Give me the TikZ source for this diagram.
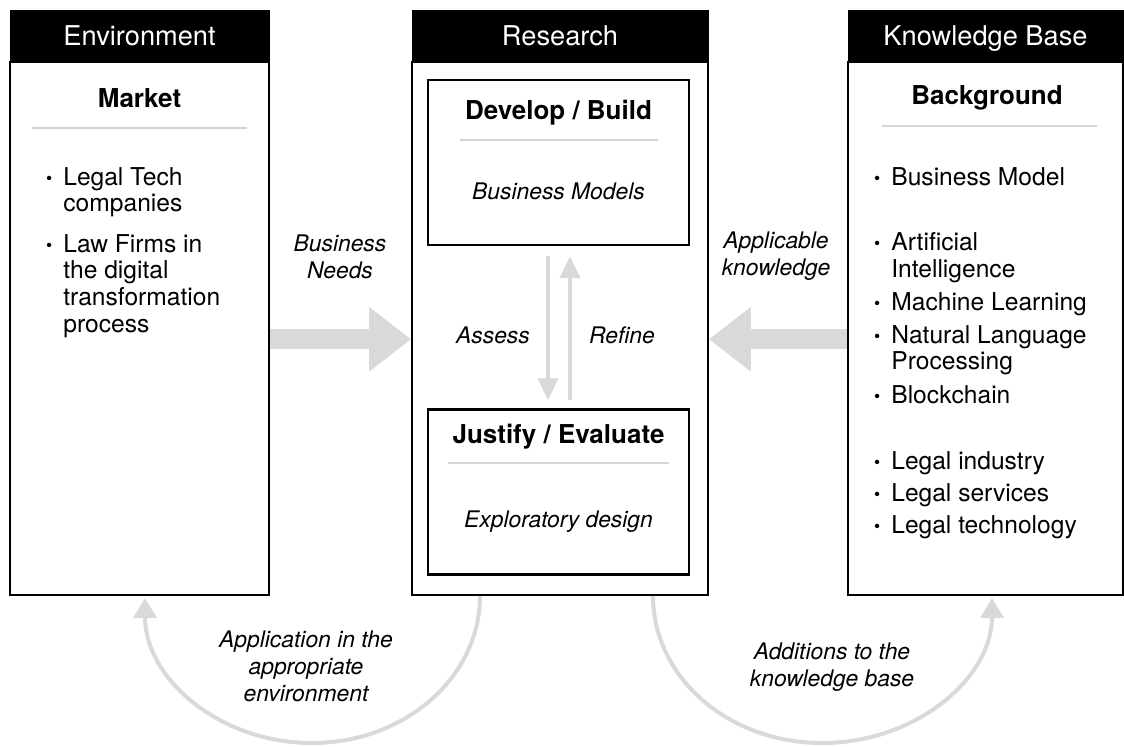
\documentclass[tikz,border=0pt]{standalone}
\usepackage{fontspec}
\setmainfont{TeX Gyre Heros}
\usepackage{tikz}
\usetikzlibrary{arrows.meta,positioning}

\definecolor{flowgray}{HTML}{D9D9D9}
\definecolor{rulegray}{HTML}{D4D4D4}

% small bullet hanging left of an item
\newcommand{\itembullet}{\llap{\raisebox{0.4pt}{\fontsize{10}{10}\selectfont\textbullet}\hspace{0.22cm}}}

\begin{document}
\begin{tikzpicture}[
    x=0.02cm, y=-0.02cm,
    head/.style={rectangle, draw=black, fill=black, text=white, minimum height=1.02cm, inner sep=0pt, text height=11.2pt, text depth=0pt, font=\fontsize{15.5}{18}\selectfont},
    colbox/.style={rectangle, draw=black, line width=1.1pt, minimum height=10.66cm, inner sep=0pt},
    stage/.style={rectangle, draw=black, line width=1.4pt, minimum width=5.22cm, minimum height=3.3cm},
    title/.style={anchor=base, font=\bfseries\fontsize{14.8}{17}\selectfont},
    divider/.style={draw=rulegray, line width=0.9pt},
    item/.style={anchor=north west, align=left, inner sep=0pt, font=\fontsize{14}{15.2}\selectfont},
    note/.style={align=center, inner sep=0pt, font=\itshape\fontsize{13}{15.4}\selectfont},
    bigflow/.style={-{Triangle[width=1.24cm, length=0.84cm]}, draw=flowgray, line width=0.4cm},
    thinflow/.style={-{Triangle[width=0.4cm, length=0.44cm]}, draw=flowgray, line width=0.08cm},
    cycleflow/.style={-{Triangle[width=0.46cm, length=0.4cm]}, draw=flowgray, line width=0.08cm}
]
\useasboundingbox (0,0) rectangle (1124,746);

% Environment
\node[head, minimum width=5.18cm] (envhead) at (139.5,35.5) {Environment};
\node[colbox, minimum width=5.18cm, below=0pt of envhead] (env) {};
\node[title] (market) at (139.5,108) {Market};
\draw[divider] (32,128) -- (247,128);
\node[item] (env1) at (63,167) {\itembullet Legal Tech\\companies};
\node[item] (env2) at (63,234) {\itembullet Law Firms in\\the digital\\transformation\\process};

% Research
\node[head, minimum width=5.92cm] (reshead) at (560,35.5) {Research};
\node[colbox, minimum width=5.92cm, below=0pt of reshead] (res) {};

\node[stage] (build) at (558.5,162.5) {};
\node[title] (buildtitle) at (558.5,120) {Develop / Build};
\draw[divider] (460,140) -- (658,140);
\node[note, anchor=base] (models) at (558.5,200) {Business Models};

\node[stage] (eval) at (558.5,492) {};
\node[title] (evaltitle) at (558.5,443) {Justify / Evaluate};
\draw[divider] (448,463) -- (669,463);
\node[note, anchor=base] (design) at (558.5,527) {Exploratory design};

% Assess / Refine loop
\draw[thinflow] ([xshift=-0.21cm, yshift=-0.2cm]build.south) -- ([xshift=-0.21cm, yshift=0.16cm]eval.north);
\draw[thinflow] ([xshift=0.23cm, yshift=0.16cm]eval.north) -- ([xshift=0.23cm, yshift=-0.2cm]build.south);
\node[note] (assess) at (493,335) {Assess};
\node[note] (refine) at (622,335) {Refine};

% Knowledge Base
\node[head, minimum width=5.5cm] (kbhead) at (985.5,35.5) {Knowledge Base};
\node[colbox, minimum width=5.5cm, below=0pt of kbhead] (kb) {};
\node[title] (background) at (987,105) {Background};
\draw[divider] (882,126) -- (1097,126);
\node[item] (kb1) at (891,167) {\itembullet Business Model};
\node[item] (kb2) at (891,232) {\itembullet Artificial\\Intelligence};
\node[item] (kb3) at (891,292) {\itembullet Machine Learning};
\node[item] (kb4) at (891,325) {\itembullet Natural Language\\Processing};
\node[item] (kb5) at (891,385) {\itembullet Blockchain};
\node[item] (kb6) at (891,451) {\itembullet Legal industry};
\node[item] (kb7) at (891,483) {\itembullet Legal services};
\node[item] (kb8) at (891,515) {\itembullet Legal technology};

% Business needs and applicable knowledge
\draw[bigflow] ([yshift=-0.21cm]env.east) -- ([yshift=-0.21cm]res.west);
\draw[bigflow] ([yshift=-0.21cm]kb.west) -- ([yshift=-0.21cm]res.east);
\node[note] (needs) at (340,257) {Business\\Needs};
\node[note] (applicable) at (776,256) {Applicable\\knowledge};

% Relevance and rigor cycles
\coordinate (resleft) at (480,596);
\coordinate (envin) at (145,598);
\coordinate (resright) at (653,596);
\coordinate (kbin) at (992,598);
\draw[cycleflow] (resleft) .. controls +(0,81) and +(93,0) .. (312,743) .. controls +(-93,0) and +(0,80) .. (envin);
\draw[cycleflow] (resright) .. controls +(0,81) and +(-94,0) .. (822,743) .. controls +(94,0) and +(0,80) .. (kbin);
\node[note] (application) at (306,666) {Application in the\\appropriate\\environment};
\node[note] (additions) at (832,667) {Additions to the\\knowledge base};

\end{tikzpicture}
\end{document}
